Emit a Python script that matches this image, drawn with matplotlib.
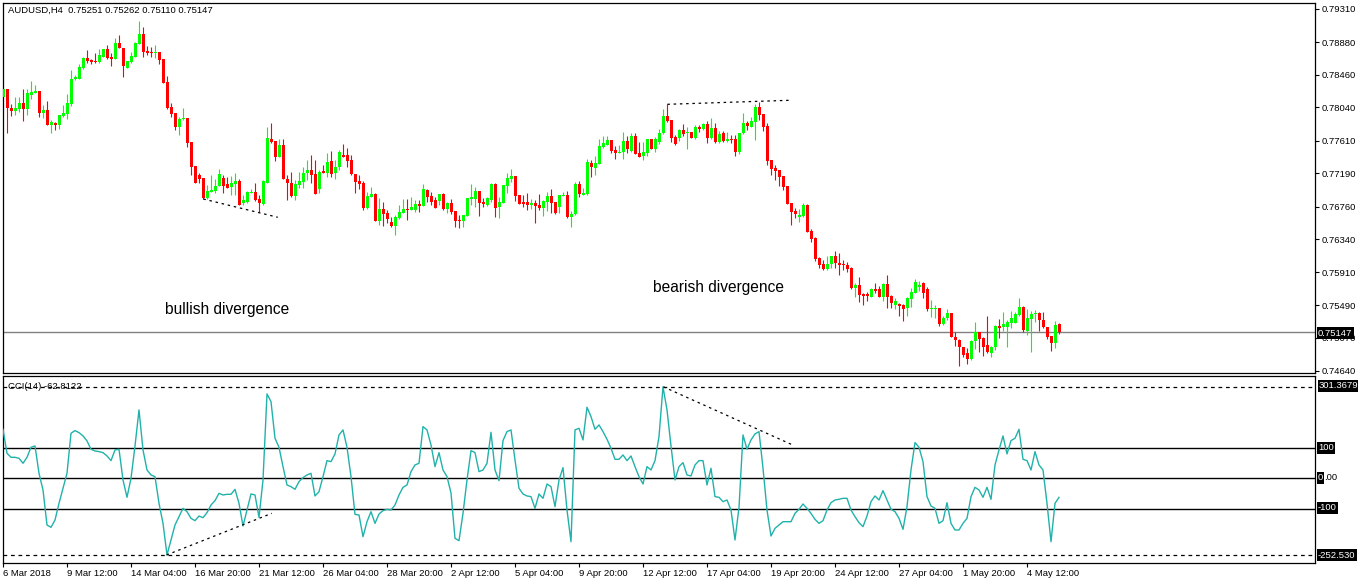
import matplotlib
matplotlib.use("Agg")
import matplotlib.pyplot as plt
import numpy as np

plt.rcParams['font.family'] = ['Liberation Sans', 'DejaVu Sans']

symbol_title = "AUDUSD,H4  0.75251 0.75262 0.75110 0.75147"
cci_title = "CCI(14) -62.8122"

opens = [
    .78175, .78278, .78033, .77998, .78020, .78097, .78020, .78200, .78226, .78252,
    .77968, .78007, .77814, .77839, .77814, .77930, .77955, .78084, .78407, .78407,
    .78549, .78678, .78652, .78639, .78626, .78691, .78794, .78691, .78665, .78871,
    .78807, .78549, .78626, .78691, .78858, .78987, .78768, .78755, .78742, .78755,
    .78665, .78368, .78046, .77968, .77788, .77891, .77904, .77594, .77285, .77169,
    .77130, .76872, .76949, .76962, .77027, .77130, .77052, .77014, .77052, .77091,
    .76807, .76820, .76936, .76949, .76859, .76794, .77065, .77633, .77607, .77401,
    .77555, .77117, .77065, .76898, .77039, .77078, .77194, .77233, .77181, .76988,
    .77220, .77194, .77349, .77194, .77272, .77427, .77427, .77362, .77181, .77095,
    .77065, .76743, .76889, .76923, .76579, .76730, .76678, .76562, .76511, .76618,
    .76682, .76730, .76721, .76717, .76798, .76773, .76979, .76898, .76846, .76837,
    .76923, .76730, .76807, .76704, .76592, .76579, .76644, .76863, .76863, .76962,
    .76824, .76782, .76846, .77052, .76760, .76811, .77030, .77121, .77156, .76907,
    .76820, .76820, .76782, .76807, .76782, .76739, .76820, .76898, .76820, .76752,
    .76898, .76907, .76631, .76665, .77052, .76910, .76919, .77327, .77263, .77314,
    .77530, .77559, .77620, .77487, .77456, .77461, .77607, .77482, .77675, .77456,
    .77410, .77456, .77633, .77504, .77590, .77706, .77930, .77878, .77663, .77650,
    .77749, .77706, .77727, .77642, .77792, .77762, .77826, .77650, .77779, .77590,
    .77714, .77611, .77633, .77633, .77465, .77706, .77843, .77792, .77856, .78050,
    .77955, .77801, .77362, .77255, .77233, .77156, .77027, .76807, .76708, .76623,
    .76639, .76782, .76446, .76360, .76094, .76020, .75952, .76017, .76124, .76030,
    .76020, .76007, .75969, .75707, .75750, .75637, .75630, .75599, .75702, .75694,
    .75599, .75759, .75608, .75492, .75501, .75492, .75449, .75569, .75642, .75728,
    .75779, .75702, .75436, .75444, .75453, .75246, .75320, .75392, .75083, .75040,
    .74954, .74868, .74791, .75023, .75143, .75062, .74979, .74876, .74954, .75225,
    .75204, .75212, .75255, .75263, .75363, .75470, .75160, .75307, .75371, .75392,
    .75298, .75212, .75092, .74997, .75251,
]

highs = [
    .78304, .78278, .78084, .78175, .78175, .78278, .78278, .78381, .78330, .78252,
    .78071, .78123, .77878, .77852, .77942, .78071, .78213, .78523, .78458, .78600,
    .78691, .78781, .78665, .78742, .78794, .78794, .78845, .78742, .78936, .78974,
    .78807, .78639, .78755, .78884, .79155, .79078, .78833, .78820, .78845, .78755,
    .78665, .78446, .78097, .77968, .77917, .78033, .77904, .77594, .77285, .77194,
    .77130, .77039, .77169, .77117, .77246, .77169, .77143, .77156, .77194, .77117,
    .76910, .76962, .76988, .77065, .76910, .77104, .77788, .77839, .77607, .77633,
    .77633, .77169, .77207, .77104, .77207, .77272, .77362, .77427, .77362, .77233,
    .77297, .77452, .77478, .77362, .77491, .77568, .77517, .77427, .77181, .77169,
    .77095, .76953, .77014, .76932, .76868, .76820, .76717, .76631, .76649, .76782,
    .76859, .76859, .76881, .76846, .76846, .77048, .76988, .76949, .76889, .76923,
    .76932, .76824, .76859, .76704, .76653, .76653, .76876, .77048, .77018, .76962,
    .76876, .76889, .77069, .77061, .76881, .77039, .77190, .77246, .77156, .76910,
    .76910, .76940, .76855, .76846, .76919, .76846, .76953, .76988, .76820, .76907,
    .76953, .76962, .76700, .77082, .77091, .77005, .77375, .77362, .77417, .77633,
    .77675, .77675, .77620, .77542, .77555, .77723, .77675, .77706, .77706, .77590,
    .77590, .77633, .77633, .77663, .77762, .78020, .78081, .77878, .77684, .77762,
    .77823, .77784, .77727, .77814, .77814, .77835, .77865, .77908, .77835, .77740,
    .77736, .77727, .77684, .77684, .77714, .77972, .77865, .77921, .78084, .78114,
    .77955, .77835, .77362, .77297, .77233, .77156, .77027, .76807, .76739, .76726,
    .76803, .76794, .76468, .76373, .76107, .76072, .76124, .76124, .76188, .76166,
    .76072, .76050, .75978, .75771, .75849, .75650, .75655, .75707, .75779, .75737,
    .75771, .75878, .75621, .75578, .75513, .75504, .75591, .75707, .75827, .75805,
    .75792, .75720, .75556, .75492, .75453, .75350, .75436, .75392, .75147, .75049,
    .74954, .74933, .75040, .75268, .75147, .75083, .75350, .74967, .75234, .75307,
    .75405, .75298, .75418, .75405, .75582, .75479, .75436, .75418, .75427, .75405,
    .75401, .75212, .75092, .75285, .75262,
]

lows = [
    .78175, .77710, .77933, .77942, .77981, .77865, .77942, .78149, .78226, .77917,
    .77904, .77814, .77710, .77749, .77762, .77917, .77891, .78059, .78394, .78407,
    .78536, .78613, .78600, .78613, .78613, .78691, .78665, .78575, .78665, .78807,
    .78433, .78549, .78613, .78691, .78858, .78691, .78717, .78691, .78678, .78600,
    .78355, .78020, .77917, .77749, .77684, .77878, .77530, .77169, .77065, .77065,
    .76859, .76859, .76949, .76936, .77027, .76936, .77001, .76910, .76910, .76782,
    .76782, .76807, .76936, .76833, .76691, .76782, .77065, .77581, .77349, .77401,
    .77117, .76846, .76885, .76846, .77001, .77001, .77104, .77065, .76923, .76936,
    .77194, .77143, .77143, .77117, .77233, .77405, .77276, .77169, .76940, .76992,
    .76717, .76726, .76889, .76579, .76524, .76511, .76553, .76501, .76394, .76597,
    .76674, .76588, .76717, .76695, .76695, .76773, .76824, .76782, .76747, .76782,
    .76717, .76674, .76661, .76501, .76481, .76501, .76644, .76782, .76760, .76640,
    .76760, .76769, .76824, .76631, .76610, .76811, .76932, .77082, .76837, .76794,
    .76760, .76717, .76726, .76553, .76717, .76640, .76708, .76682, .76661, .76682,
    .76898, .76618, .76501, .76653, .76889, .76910, .76910, .77147, .77169, .77310,
    .77521, .77555, .77448, .77375, .77452, .77375, .77448, .77469, .77435, .77405,
    .77362, .77417, .77500, .77469, .77568, .77697, .77856, .77598, .77555, .77611,
    .77672, .77504, .77642, .77629, .77727, .77749, .77585, .77629, .77585, .77577,
    .77598, .77598, .77577, .77417, .77435, .77693, .77749, .77792, .77620, .77878,
    .77740, .77297, .77169, .77104, .77027, .76975, .76794, .76524, .76610, .76566,
    .76631, .76437, .76308, .76063, .75973, .75943, .75943, .75965, .75965, .75878,
    .75943, .75921, .75694, .75599, .75534, .75492, .75547, .75591, .75642, .75591,
    .75547, .75449, .75449, .75436, .75350, .75289, .75350, .75470, .75642, .75676,
    .75578, .75418, .75341, .75320, .75221, .75234, .75298, .75075, .74963, .74705,
    .74825, .74730, .74782, .74920, .74889, .74834, .74876, .74825, .74911, .75062,
    .75160, .74954, .75191, .75255, .75350, .75147, .75104, .74889, .75276, .75160,
    .75191, .75049, .74902, .74933, .75110,
]

closes = [
    .78278, .78033, .77998, .78033, .78097, .78020, .78226, .78239, .78252, .77968,
    .78007, .77814, .77852, .77814, .77942, .77968, .78097, .78407, .78433, .78562,
    .78678, .78639, .78626, .78626, .78717, .78794, .78678, .78665, .78871, .78807,
    .78575, .78639, .78704, .78871, .78987, .78755, .78742, .78742, .78755, .78652,
    .78355, .78033, .77955, .77788, .77891, .77904, .77581, .77272, .77065, .77117,
    .76872, .76962, .76975, .77027, .77181, .77027, .77001, .77065, .77091, .76782,
    .76846, .76949, .76949, .76846, .76807, .77091, .77646, .77594, .77401, .77555,
    .77117, .77065, .76898, .77052, .77091, .77194, .77233, .77169, .76923, .77207,
    .77194, .77336, .77181, .77272, .77465, .77405, .77353, .77181, .77082, .77056,
    .76743, .76898, .76923, .76579, .76730, .76665, .76601, .76511, .76623, .76687,
    .76730, .76721, .76756, .76790, .76773, .76988, .76889, .76824, .76747, .76923,
    .76730, .76803, .76691, .76579, .76579, .76653, .76868, .76885, .76962, .76811,
    .76798, .76876, .77052, .76747, .76820, .77039, .77130, .77156, .76898, .76794,
    .76794, .76782, .76807, .76769, .76739, .76829, .76898, .76811, .76682, .76907,
    .76910, .76623, .76665, .77052, .76923, .76936, .77336, .77276, .77327, .77546,
    .77581, .77620, .77478, .77452, .77469, .77607, .77500, .77672, .77443, .77405,
    .77465, .77633, .77504, .77637, .77714, .77930, .77865, .77650, .77568, .77749,
    .77697, .77723, .77650, .77792, .77762, .77826, .77650, .77779, .77598, .77697,
    .77607, .77633, .77624, .77465, .77714, .77843, .77801, .77865, .78050, .77942,
    .77792, .77349, .77246, .77224, .77139, .77018, .76794, .76695, .76665, .76653,
    .76782, .76437, .76343, .76081, .76007, .75952, .76020, .76124, .76030, .76004,
    .76004, .75952, .75707, .75750, .75621, .75612, .75612, .75694, .75676, .75599,
    .75759, .75599, .75513, .75547, .75479, .75440, .75578, .75663, .75784, .75746,
    .75642, .75436, .75449, .75449, .75246, .75328, .75384, .75075, .75040, .74954,
    .74846, .74791, .75031, .75143, .75057, .74954, .74889, .74954, .75221, .75199,
    .75246, .75276, .75320, .75371, .75470, .75169, .75320, .75375, .75392, .75298,
    .75204, .75083, .74997, .75234, .75147,
]

cci = [
    161.5, 82.4, 69.2, 69.2, 65.9, 49.5, 69.2, 102.2, 106.6, 16.5,
    -38.5, -153.8, -161.5, -137.4, -82.4, -33.0, 16.5, 148.4, 157.1, 150.5,
    139.6, 123.1, 95.6, 90.1, 87.9, 84.6, 73.6, 58.2, 93.4, 95.6,
    -5.5, -62.6, 0.0, 106.6, 225.3, 93.4, 27.5, 11.0, 5.5, -82.4,
    -148.4, -252.53, -203.3, -153.8, -126.4, -98.9, -109.9, -131.9, -139.6, -124.2,
    -129.7, -113.2, -87.9, -73.6, -49.5, -54.9, -52.7, -52.7, -36.3, -82.4,
    -157.1, -104.4, -51.6, -54.9, -128.6, -5.5, 278.0, 252.7, 131.9, 102.2,
    38.5, -22.0, -27.5, -36.3, -11.0, 2.2, 11.0, 16.5, -58.2, -44.0,
    5.5, 58.2, 54.9, 80.2, 142.9, 159.3, 102.2, 5.5, -118.7, -120.9,
    -192.3, -142.9, -109.9, -148.4, -117.6, -106.6, -102.2, -104.4, -87.9, -54.9,
    -29.7, -22.0, 22.0, 44.0, 49.5, 170.3, 159.3, 109.9, 38.5, 84.6,
    27.5, 5.5, -48.4, -197.8, -205.5, -115.4, -5.5, 91.2, 84.6, 22.0,
    27.5, 49.5, 151.6, 27.5, -7.7, 124.2, 153.8, 159.3, 60.4, -33.0,
    -51.6, -58.2, -60.4, -98.9, -51.6, -65.9, -18.7, -27.5, -93.4, -5.5,
    35.2, -104.4, -208.8, 159.3, 164.8, 126.4, 234.1, 203.3, 161.5, 175.8,
    153.8, 128.6, 98.9, 62.6, 62.6, 76.9, 58.2, 73.6, 38.5, 5.5,
    -18.7, 38.5, 27.5, 58.2, 137.4, 301.3679, 225.3, 106.6, -5.5, 38.5,
    51.6, 11.0, 7.7, 44.0, 58.2, 58.2, -22.0, 33.0, -60.4, -62.6,
    -76.9, -71.4, -104.4, -203.3, -95.6, 142.9, 95.6, 126.4, 146.2, 153.8,
    33.0, -104.4, -190.1, -164.8, -153.8, -142.9, -142.9, -142.9, -115.4, -102.2,
    -84.6, -98.9, -115.4, -135.2, -148.4, -139.6, -104.4, -80.2, -71.4, -69.2,
    -65.9, -65.9, -104.4, -126.4, -146.2, -159.3, -124.2, -76.9, -58.2, -71.4,
    -40.7, -71.4, -102.2, -109.9, -131.9, -168.1, -93.4, 27.5, 117.6, 102.2,
    54.9, -60.4, -91.2, -98.9, -148.4, -139.6, -80.2, -148.4, -170.3, -170.3,
    -148.4, -131.9, -60.4, -29.7, -38.5, -62.6, -29.7, -69.2, 44.0, 93.4,
    139.6, 80.2, 124.2, 131.9, 161.5, 62.6, 58.2, 27.5, 87.9, 44.0,
    27.5, -82.4, -208.8, -82.4, -62.8122,
]

price_ticks = [0.79310, 0.78880, 0.78460, 0.78040, 0.77610, 0.77190,
               0.76760, 0.76340, 0.75910, 0.75490, 0.75070, 0.74640]
last_price = 0.75147
cci_levels = [100, 0, -100]
cci_max, cci_min = 301.3679, -252.530

date_tick_bars = [0, 16, 32, 48, 64, 80, 96, 112, 128, 144, 160, 176, 192, 208, 224, 240, 256]
date_labels = ["6 Mar 2018", "9 Mar 12:00", "14 Mar 04:00", "16 Mar 20:00", "21 Mar 12:00",
               "26 Mar 04:00", "28 Mar 20:00", "2 Apr 12:00", "5 Apr 04:00", "9 Apr 20:00",
               "12 Apr 12:00", "17 Apr 04:00", "19 Apr 20:00", "24 Apr 12:00", "27 Apr 04:00",
               "1 May 20:00", "4 May 12:00"]

# divergence annotations (bar index, value)
bull_price_x, bull_price_y = [50.1, 68.7], [0.76858, 0.76622]
bear_price_x, bear_price_y = [166.1, 196.8], [0.78080, 0.78132]
bull_cci_x, bull_cci_y = [40.9, 67.2], [-252.5, -115.4]
bear_cci_x, bear_cci_y = [165.1, 197.4], [301.4, 109.9]
bull_text = ("bullish divergence", 40.5, 0.75426)
bear_text = ("bearish divergence", 162.5, 0.75710)

W, H = 1358, 584
fig = plt.figure(figsize=(W / 100, H / 100), dpi=100)
fig.patch.set_facecolor('white')

def fx(p): return p / W
def fy(p): return 1 - p / H

L, R = 2.7, 1315
ax = fig.add_axes([fx(L), fy(373), fx(R) - fx(L), fy(2.7) - fy(373)])
ax2 = fig.add_axes([fx(L), fy(563), fx(R) - fx(L), fy(376) - fy(563)])

o = np.array(opens); h = np.array(highs); l = np.array(lows); c = np.array(closes)
idx = np.arange(len(o))
up = c >= o
cols = np.where(up, '#00ff00', '#ff0000')

ax.vlines(idx, l, h, colors=cols, lw=0.8, zorder=2)
bot = np.minimum(o, c)
hgt = np.maximum(np.abs(c - o), 0.00013)
ax.bar(idx, hgt, bottom=bot, width=0.75, color=cols, linewidth=0, zorder=3)
ax.axhline(last_price, color='#808080', lw=1.0, zorder=1)

xlim = (-0.075, 328.0)
ax.set_xlim(*xlim)
ax.set_ylim(0.74613, 0.79391)
ax.set_xticks([])
ax.yaxis.tick_right()
ax.set_yticks(price_ticks)
ax.set_yticklabels([f"{t:.5f}" for t in price_ticks])
ax.tick_params(axis='y', direction='out', length=3, width=0.8, pad=2, labelsize=6.8)

ax.plot(bull_price_x, bull_price_y, color='black', lw=0.9, ls=(0, (2, 3)), zorder=4)
ax.plot(bear_price_x, bear_price_y, color='black', lw=0.9, ls=(0, (2, 3)), zorder=4)
ax.text(bull_text[1], bull_text[2], bull_text[0], fontsize=11.2, va='center', ha='left')
ax.text(bear_text[1], bear_text[2], bear_text[0], fontsize=11.2, va='center', ha='left')

# CCI panel
ax2.plot(idx, cci, color='#20b2aa', lw=1.0, zorder=3)
for lv in cci_levels:
    ax2.axhline(lv, color='black', lw=1.0, zorder=1)
for lv in (cci_max, cci_min):
    ax2.axhline(lv, color='black', lw=0.9, ls=(0, (3, 3)), zorder=1)
ax2.plot(bull_cci_x, bull_cci_y, color='black', lw=0.9, ls=(0, (2, 3)), zorder=4)
ax2.plot(bear_cci_x, bear_cci_y, color='black', lw=0.9, ls=(0, (2, 3)), zorder=4)
ax2.set_xlim(*xlim)
ax2.set_ylim(-279, 337)
ax2.set_yticks([])
ax2.set_xticks(date_tick_bars)
ax2.set_xticklabels(date_labels)
ax2.tick_params(axis='x', direction='out', length=3, width=0.8, pad=1.5, labelsize=6.8)
for lbl in ax2.get_xticklabels():
    lbl.set_ha('left')

for a in (ax, ax2):
    for s in a.spines.values():
        s.set_linewidth(0.9)
        s.set_color('black')

def ptext(x, y, s, **kw):
    fig.text(fx(x), fy(y), s, **kw)

box = dict(boxstyle='square,pad=0.12', fc='black', ec='none')
ptext(7.5, 10.5, symbol_title, fontsize=6.8, va='center', ha='left')
ptext(7.5, 386.5, cci_title, fontsize=6.8, va='center', ha='left')
ptext(1318, 333, f"{last_price:.5f}", fontsize=6.8, va='center', ha='left', color='white', bbox=box)
ptext(1319, 386, f"{cci_max:.4f}", fontsize=6.8, va='center', ha='left', color='white', bbox=box)
ptext(1318, 448, f"{cci_levels[0]}", fontsize=6.8, va='center', ha='left', color='white', bbox=box)
ptext(1318, 478, "0", fontsize=6.8, va='center', ha='left', color='white', bbox=box)
ptext(1324, 478, ".00", fontsize=6.8, va='center', ha='left', color='black')
ptext(1318, 508, f"{cci_levels[2]}", fontsize=6.8, va='center', ha='left', color='white', bbox=box)
ptext(1318, 555, f"{cci_min:.3f}", fontsize=6.8, va='center', ha='left', color='white', bbox=box)

fig.savefig("out.png", dpi=100, facecolor='white')
